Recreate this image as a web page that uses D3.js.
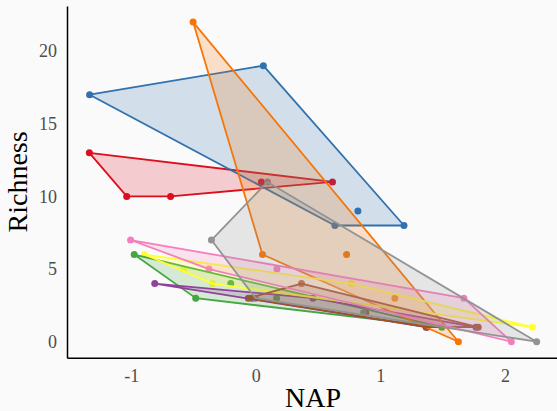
<!DOCTYPE html>
<html>
<head>
<meta charset="utf-8">
<script src="https://cdn.jsdelivr.net/npm/d3@7"></script>
<style>
  body { margin: 0; background: #fafafa; }
  svg { display: block; }
</style>
</head>
<body>
<div id="chart"></div>
<script>
// one entry per sample: beach id, NAP and species richness
const beach = [1, 1, 1, 1, 1, 2, 2, 2, 2, 2, 3, 3, 3, 3, 3, 4, 4, 4, 4, 4, 5, 5, 5, 5, 5,
  6, 6, 6, 6, 6, 7, 7, 7, 7, 7, 8, 8, 8, 8, 8, 9, 9, 9, 9, 9]
const nap = [0.045, -1.036, -1.336, 0.616, -0.684,
  1.190, 0.820, 0.635, 0.061, -1.334,
  -0.976, 1.494, -0.201, -0.482, 0.167,
  1.768, -0.030, 0.460, 1.367, -0.811,
  1.117, -0.503, 0.729, 1.627, 0.054,
  -0.578, -0.348, 2.222, -0.893, 0.766,
  0.883, 1.786, 1.375, -0.060, 0.367,
  1.671, -0.375, -1.005, 0.170, 2.052,
  -0.356, 0.094, -0.002, 2.255, 0.865]
const richness = [11, 10, 13, 11, 10,
  8, 9, 8, 19, 17,
  6, 1, 4, 3, 3,
  1, 3, 3, 1, 4,
  3, 22, 6, 0, 6,
  5, 4, 1, 6, 4,
  2, 1, 1, 3, 4,
  3, 5, 7, 5, 0,
  7, 11, 3, 0, 2]

const beaches = [1, 2, 3, 4, 5, 6, 7, 8, 9]
const palette = ['#DC0E1F', '#3171AE', '#45A542', '#8E439A', '#F77506', '#FFFF33', '#A05226', '#F47FBC', '#939393']
const xTicks = [-1, 0, 1, 2]
const yTicks = [0, 5, 10, 15, 20]

const width = 557
const height = 411
const mLeft = 67
const mRight = 559
const mTop = 6.1
const mBottom = 357.7

const svg = d3.select('#chart').append('svg')
  .attr('width', width)
  .attr('height', height)

const xScale = d3.scaleLinear().domain([-1.5155, 2.4345]).range([mLeft, mRight])
const yScale = d3.scaleLinear().domain([-1.1, 23.1]).range([mBottom, mTop])
const color = d3.scaleOrdinal().domain(beaches).range(palette)

const points = beach.map((b, i) => ({ beach: b, x: nap[i], y: richness[i] }))

// points go underneath, the hulls are painted over them
svg.append('g')
  .selectAll('circle')
  .data(points)
  .join('circle')
  .attr('cx', d => xScale(d.x))
  .attr('cy', d => yScale(d.y))
  .attr('r', 3.5)
  .attr('fill', d => color(d.beach))

const hulls = beaches.map(b => {
  const pts = points.filter(p => p.beach === b).map(p => [xScale(p.x), yScale(p.y)])
  return { beach: b, hull: d3.polygonHull(pts) }
})

svg.append('g')
  .selectAll('path')
  .data(hulls)
  .join('path')
  .attr('d', d => 'M' + d.hull.join('L') + 'Z')
  .attr('fill', d => color(d.beach))
  .attr('fill-opacity', 0.2)
  .attr('stroke', d => color(d.beach))
  .attr('stroke-width', 1.8)
  .attr('stroke-linejoin', 'round')

// axes
const xAxis = svg.append('g')
  .attr('transform', 'translate(0,' + mBottom + ')')
  .call(d3.axisBottom(xScale).tickValues(xTicks).tickSize(0).tickPadding(12).tickFormat(d3.format('d')))
const yAxis = svg.append('g')
  .attr('transform', 'translate(' + mLeft + ',0)')
  .call(d3.axisLeft(yScale).tickValues(yTicks).tickSize(0).tickPadding(10).tickFormat(d3.format('d')))

;[xAxis, yAxis].forEach(ax => {
  ax.select('.domain').attr('stroke', '#000').attr('stroke-width', 1.5)
  ax.selectAll('text')
    .attr('fill', '#4d4d4d')
    .style('font-family', '"Liberation Serif", "Times New Roman", serif')
    .style('font-size', '18px')
})
xAxis.selectAll('text').text(d => d < 0 ? '-' + Math.abs(d) : d)

svg.append('text')
  .attr('x', (mLeft + mRight) / 2)
  .attr('y', 407)
  .attr('text-anchor', 'middle')
  .style('font-family', '"Liberation Serif", "Times New Roman", serif')
  .style('font-size', '28px')
  .text('NAP')

svg.append('text')
  .attr('transform', 'translate(27,' + (mTop + mBottom) / 2 + ') rotate(-90)')
  .attr('text-anchor', 'middle')
  .style('font-family', '"Liberation Serif", "Times New Roman", serif')
  .style('font-size', '28px')
  .text('Richness')
</script>
</body>
</html>
